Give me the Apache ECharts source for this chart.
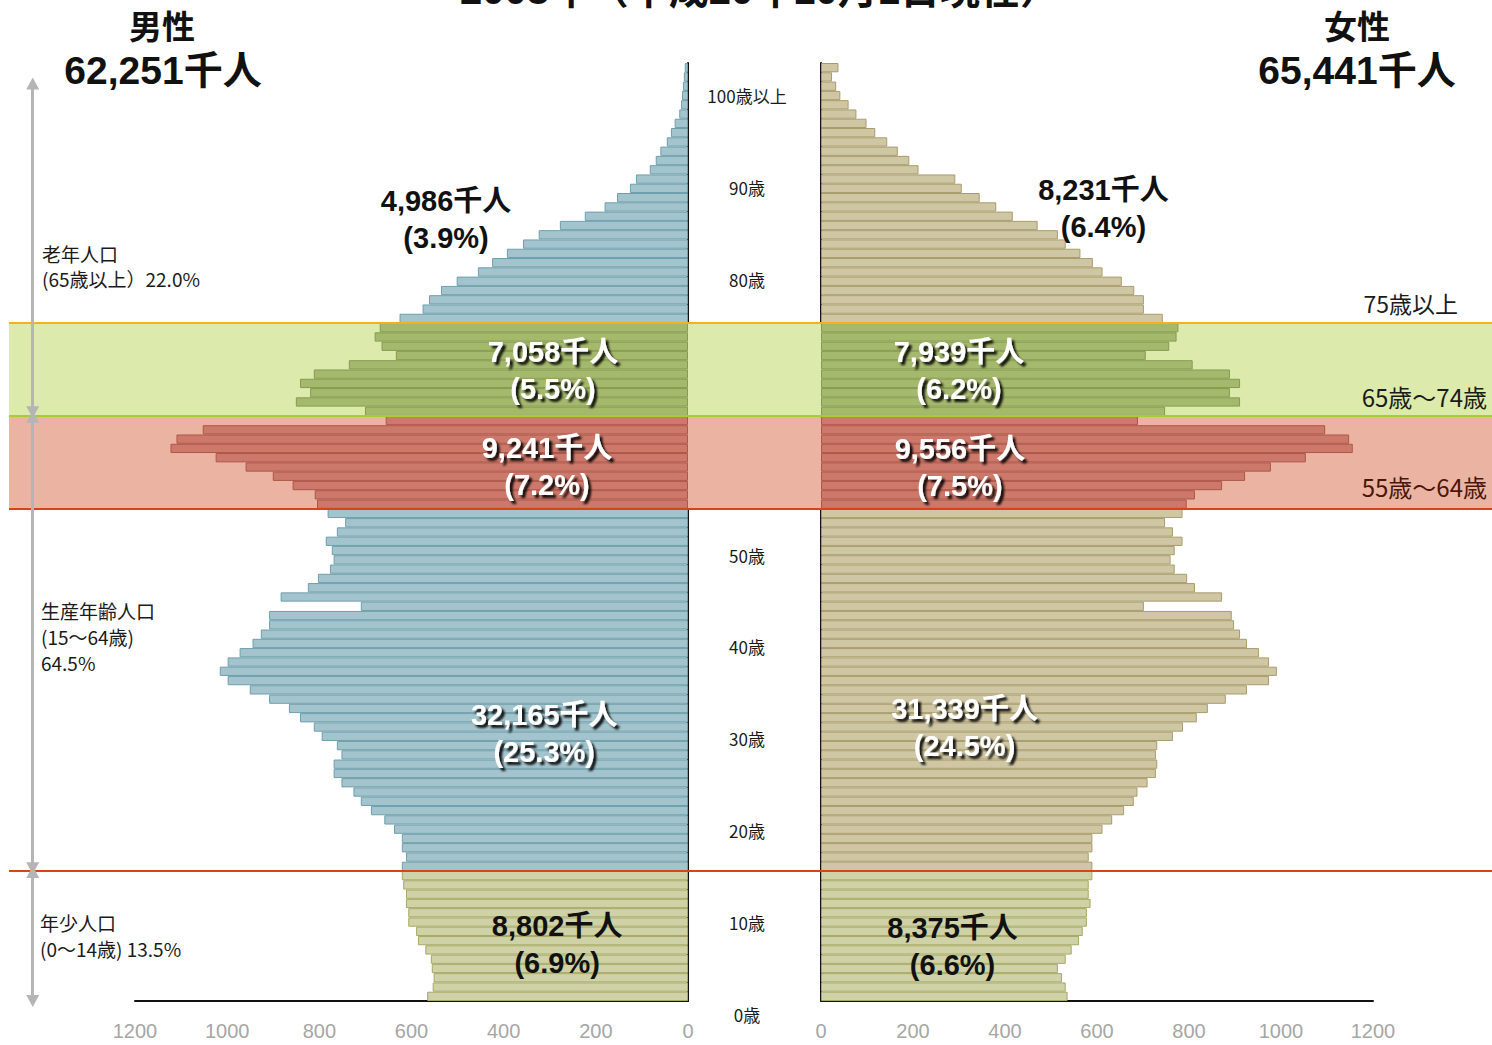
<!DOCTYPE html>
<html>
<head>
<meta charset="utf-8">
<script src="https://cdn.jsdelivr.net/npm/echarts@6/dist/echarts.min.js"></script>
<style>
  html, body { margin: 0; padding: 0; background: #fff; }
  #chart { width: 1492px; height: 1045px; }
</style>
</head>
<body>
<div id="chart"></div>
<script>
// ages 0..99 and 100+
const ages = Array.from({ length: 101 }, (_, i) => (i === 100 ? '100歳以上' : i + '歳'))

// population by single year of age, thousands (index = age)
const male = [
  566, 554, 552, 556, 558, 570, 586, 590, 607, 607,
  612, 612, 618, 621, 621, 612, 621, 621, 638, 659,
  688, 710, 726, 752, 769, 769, 752, 762, 795, 812,
  842, 866, 909, 951, 999, 1016, 999, 973, 945, 927,
  909, 909, 710, 884, 825, 803, 777, 769, 773, 786,
  762, 744, 782, 805, 810, 858, 901, 960, 1025, 1123,
  1110, 1053, 656, 701, 851, 820, 842, 812, 736, 634,
  665, 680, 669, 626, 576, 562, 536, 502, 456, 425,
  393, 358, 324, 278, 224, 181, 154, 126, 113, 83,
  70, 60, 46, 37, 29, 19, 15, 13, 11, 9,
  7,
]
const female = [
  536, 532, 524, 515, 532, 545, 561, 569, 578, 578,
  586, 582, 582, 590, 590, 582, 590, 590, 612, 633,
  659, 680, 688, 710, 728, 731, 728, 731, 765, 787,
  817, 841, 880, 926, 974, 991, 974, 952, 926, 911,
  898, 893, 702, 872, 813, 796, 769, 760, 769, 786,
  765, 748, 786, 795, 813, 872, 922, 978, 1054, 1156,
  1148, 1096, 689, 748, 911, 889, 911, 889, 808, 706,
  757, 773, 777, 743, 702, 702, 681, 654, 612, 591,
  564, 532, 515, 471, 417, 381, 345, 306, 292, 212,
  192, 167, 144, 118, 99, 77, 60, 42, 33, 24,
  38,
]

// group totals: 0-14, 15-54, 55-64, 65-74, 75+
const maleTotals = [8802, 32165, 9241, 7058, 4986]
const malePct = [6.9, 25.3, 7.2, 5.5, 3.9]
const femaleTotals = [8375, 31339, 9556, 7939, 8231]
const femalePct = [6.6, 24.5, 7.5, 6.2, 6.4]
const sexTotals = [62251, 65441]
const sexNames = ['男性', '女性']

const FONT = '"Liberation Sans", "Noto Sans CJK JP", sans-serif'
const JP = '"Noto Sans CJK JP", sans-serif'

const fills = {
  male: { color: '#a4c4cd', borderColor: '#6d9fac', borderWidth: 1 },
  female: { color: '#cfc6a4', borderColor: '#a99c6b', borderWidth: 1 },
  young: { color: '#cfd1a7', borderColor: '#a7a862', borderWidth: 1 },
  green: { color: '#a5b96d', borderColor: '#879a52', borderWidth: 1 },
  red: { color: '#cc796b', borderColor: '#ae5648', borderWidth: 1 },
}

// bar colour follows the band it sits in
function zone(i, base) {
  if (i <= 13) return fills.young
  if (i >= 53 && i <= 62) return fills.red
  if (i >= 63 && i <= 72) return fills.green
  return fills[base]
}

const fmt = (n) => n.toLocaleString('en-US')

// where each group label sits: [value, age, dy]
const maleLabelAt = [[284, '6歳', 4], [312, '28歳', -3], [306, '57歳', 0], [293, '67歳', -4], [525, '84歳', 3]]
const femaleLabelAt = [[286, '5歳', -3], [312, '29歳', 0], [302, '57歳', 1], [300, '67歳', -4], [614, '85歳', 2]]

function groupPoints(totals, pct, at) {
  return totals.map((t, g) => {
    const white = g >= 1 && g <= 3
    return {
      coord: [at[g][0], at[g][1]],
      label: {
        show: true,
        position: 'inside',
        offset: [0, at[g][2]],
        formatter: `${fmt(t)}千人\n(${pct[g]}%)`,
        fontFamily: FONT,
        fontSize: 29,
        fontWeight: 'bold',
        lineHeight: 37,
        align: 'center',
        color: white ? '#fff' : '#111',
        textShadowColor: white ? 'rgba(0,0,0,0.9)' : 'transparent',
        textShadowBlur: white ? 2 : 0,
        textShadowOffsetX: white ? 3 : 0,
        textShadowOffsetY: white ? 3 : 0,
      },
    }
  })
}

const ageRich = {}
for (let k = 0; k <= 10; k++) {
  const off = 18 + k
  ageRich['t' + k] = { padding: [off * 2, 0, 0, 0], fontSize: 17, fontFamily: JP, color: '#1a1a1a' }
}

const TOP = 63
const BOTTOM = 44

const valueAxisCommon = {
  type: 'value',
  min: 0,
  max: 1200,
  interval: 200,
  splitLine: { show: false },
  axisTick: { show: false },
  axisLine: { show: true, lineStyle: { color: '#111', width: 2 } },
  axisLabel: { color: '#a6a6a6', fontSize: 20, fontFamily: FONT, margin: 20, formatter: (v) => String(v) },
}

const option = {
  animation: false,
  backgroundColor: '#fff',
  grid: [
    { left: 135, right: 804, top: TOP, bottom: BOTTOM },
    { left: 821, right: 119, top: TOP, bottom: BOTTOM },
    { left: 9, right: 0, top: TOP, bottom: BOTTOM },
  ],
  xAxis: [
    { ...valueAxisCommon, gridIndex: 0, inverse: true },
    { ...valueAxisCommon, gridIndex: 1 },
    { gridIndex: 2, type: 'value', min: 0, max: 100, show: false },
  ],
  yAxis: [
    {
      gridIndex: 0,
      type: 'category',
      data: ages,
      position: 'right',
      axisTick: { show: false },
      axisLabel: { show: false },
      axisLine: { show: true, lineStyle: { color: '#111', width: 2 } },
    },
    {
      gridIndex: 1,
      type: 'category',
      data: ages,
      position: 'left',
      axisTick: { show: false },
      axisLine: { show: true, lineStyle: { color: '#111', width: 2 } },
      axisLabel: {
        show: true,
        interval: (i) => i % 10 === 0,
        align: 'center',
        margin: 74,
        formatter: (v, i) => `{t${i / 10}|${v}}`,
        rich: ageRich,
      },
    },
    { gridIndex: 2, type: 'value', min: 0, max: 101, show: false },
  ],
  series: [
    {
      // age bands behind the bars
      type: 'line',
      xAxisIndex: 2,
      yAxisIndex: 2,
      data: [],
      z: 0,
      silent: true,
      markArea: {
        silent: true,
        data: [
          [
            {
              yAxis: 53,
              itemStyle: { color: '#ebb4a2' },
              label: {
                show: true, position: 'insideBottomRight', formatter: '55歳～64歳',
                color: '#4a1608', fontSize: 24, fontFamily: JP, padding: [0, 0, 5, 0],
              },
            },
            { yAxis: 63 },
          ],
          [
            {
              yAxis: 63,
              itemStyle: { color: '#dcebab' },
              label: {
                show: true, position: 'insideBottomRight', formatter: '65歳～74歳',
                color: '#1a1a1a', fontSize: 24, fontFamily: JP, padding: [0, 0, 2, 0],
              },
            },
            { yAxis: 73 },
          ],
        ],
      },
    },
    {
      name: sexNames[0],
      type: 'bar',
      xAxisIndex: 0,
      yAxisIndex: 0,
      barCategoryGap: '0%',
      z: 2,
      data: male.map((v, i) => ({ value: v, itemStyle: zone(i, 'male') })),
      markPoint: {
        symbol: 'rect',
        symbolSize: 1,
        itemStyle: { color: 'rgba(0,0,0,0)' },
        silent: true,
        data: groupPoints(maleTotals, malePct, maleLabelAt),
      },
    },
    {
      name: sexNames[1],
      type: 'bar',
      xAxisIndex: 1,
      yAxisIndex: 1,
      barCategoryGap: '0%',
      z: 2,
      data: female.map((v, i) => ({ value: v, itemStyle: zone(i, 'female') })),
      markPoint: {
        symbol: 'rect',
        symbolSize: 1,
        itemStyle: { color: 'rgba(0,0,0,0)' },
        silent: true,
        data: groupPoints(femaleTotals, femalePct, femaleLabelAt),
      },
    },
    {
      // band border lines, drawn over the bars
      type: 'line',
      xAxisIndex: 2,
      yAxisIndex: 2,
      data: [],
      z: 5,
      silent: true,
      markLine: {
        silent: true,
        symbol: ['none', 'none'],
        label: { show: false },
        data: [
          {
            yAxis: 73,
            lineStyle: { color: '#f2b21c', width: 2, type: 'solid' },
            label: {
              show: true, position: 'insideEndTop', formatter: '75歳以上',
              color: '#1a1a1a', fontSize: 23, fontFamily: JP, padding: [0, 29, 4, 0],
            },
          },
          { yAxis: 63, lineStyle: { color: '#a6cf2e', width: 2, type: 'solid' } },
          { yAxis: 53, lineStyle: { color: '#d8431a', width: 2, type: 'solid' } },
          { yAxis: 14, lineStyle: { color: '#d8431a', width: 2, type: 'solid' } },
        ],
      },
    },
    {
      // grey range arrows on the left
      type: 'line',
      xAxisIndex: 2,
      yAxisIndex: 2,
      data: [],
      z: 5,
      silent: true,
      markLine: {
        silent: true,
        symbol: ['triangle', 'triangle'],
        symbolSize: [13, 12],
        label: { show: false },
        lineStyle: { color: '#b5b5b5', width: 3, type: 'solid' },
        data: [
          [{ coord: [1.6, 98.8] }, { coord: [1.6, 63.4] }],
          [{ coord: [1.6, 62.9] }, { coord: [1.6, 14.3] }],
          [{ coord: [1.6, 13.9] }, { coord: [1.6, 0] }],
        ],
      },
    },
  ],
  graphic: [
    {
      type: 'text', x: 760, y: 10,
      style: { text: '2008年（平成20年10月1日現在）', font: `bold 40px ${FONT}`, fill: '#111', align: 'center', verticalAlign: 'bottom' },
    },
    {
      type: 'text', x: 162, y: 25,
      style: { text: sexNames[0], font: `bold 33px ${JP}`, fill: '#111', align: 'center', verticalAlign: 'middle' },
    },
    {
      type: 'text', x: 163, y: 70,
      style: { text: fmt(sexTotals[0]) + '千人', font: `bold 39px ${FONT}`, fill: '#111', align: 'center', verticalAlign: 'middle' },
    },
    {
      type: 'text', x: 1357, y: 25,
      style: { text: sexNames[1], font: `bold 33px ${JP}`, fill: '#111', align: 'center', verticalAlign: 'middle' },
    },
    {
      type: 'text', x: 1357, y: 70,
      style: { text: fmt(sexTotals[1]) + '千人', font: `bold 39px ${FONT}`, fill: '#111', align: 'center', verticalAlign: 'middle' },
    },
    {
      type: 'text', x: 42, y: 241,
      style: { text: '老年人口\n(65歳以上）22.0%', font: `19px ${JP}`, lineHeight: 25, fill: '#1a1a1a', align: 'left', verticalAlign: 'top' },
    },
    {
      type: 'text', x: 41, y: 597,
      style: { text: '生産年齢人口\n(15～64歳)\n64.5%', font: `19px ${JP}`, lineHeight: 26, fill: '#1a1a1a', align: 'left', verticalAlign: 'top' },
    },
    {
      type: 'text', x: 40, y: 909,
      style: { text: '年少人口\n(0～14歳) 13.5%', font: `19px ${JP}`, lineHeight: 26, fill: '#1a1a1a', align: 'left', verticalAlign: 'top' },
    },
  ],
}

const chart = echarts.init(document.getElementById('chart'), null, { renderer: 'svg' })
chart.setOption(option)
</script>
</body>
</html>
